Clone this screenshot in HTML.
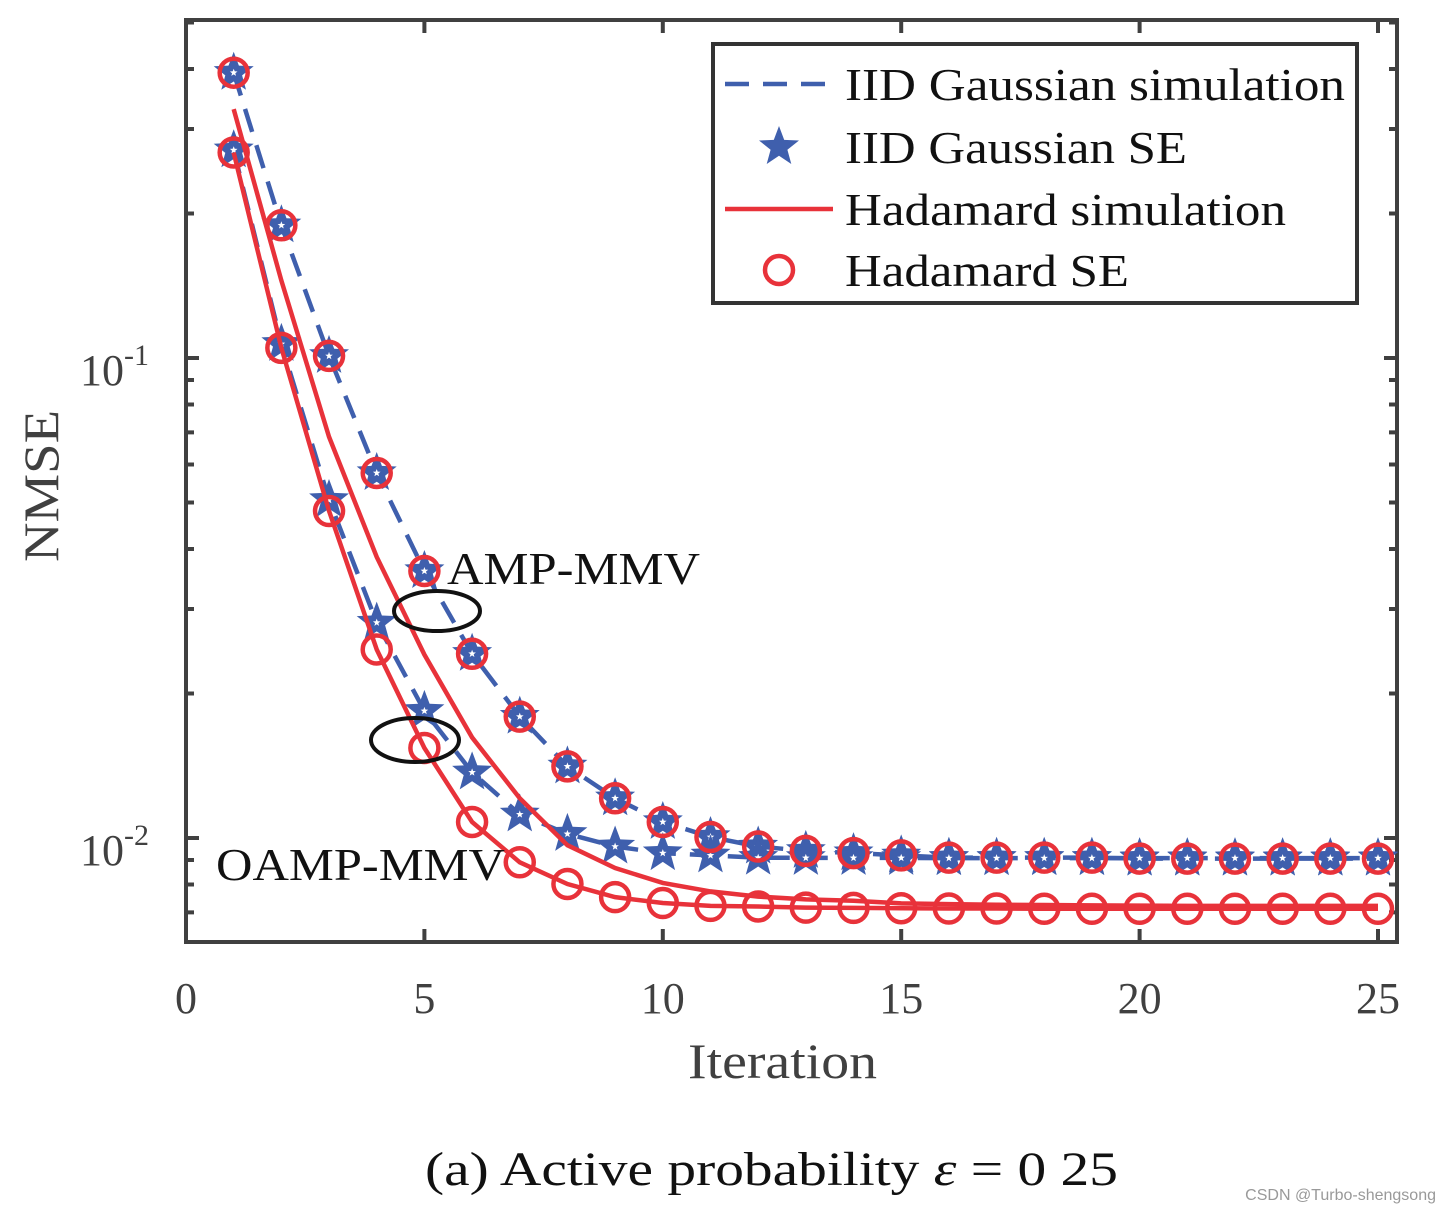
<!DOCTYPE html>
<html><head><meta charset="utf-8"><style>
body{margin:0;background:#fff}
svg text{font-family:"Liberation Serif",serif}
</style></head><body>
<svg id="chart" width="1451" height="1212" viewBox="0 0 1451 1212" xmlns="http://www.w3.org/2000/svg">
<g id="plot"></g>
<text x="688" y="1078" font-size="50" fill="#404040" textLength="189" lengthAdjust="spacingAndGlyphs">Iteration</text>
<text transform="translate(58,562) rotate(-90)" font-size="50" fill="#404040" textLength="152" lengthAdjust="spacingAndGlyphs">NMSE</text>
<text x="447" y="584" font-size="46" fill="#111" textLength="253" lengthAdjust="spacingAndGlyphs">AMP-MMV</text>
<text x="216" y="880" font-size="46" fill="#111" textLength="289" lengthAdjust="spacingAndGlyphs">OAMP-MMV</text>
<ellipse cx="437" cy="611" rx="43" ry="20" fill="none" stroke="#111" stroke-width="4"/>
<ellipse cx="415" cy="740" rx="44" ry="22" fill="none" stroke="#111" stroke-width="4"/>
<text x="425" y="1185" font-size="48" fill="#111" textLength="693" lengthAdjust="spacingAndGlyphs">(a) Active probability <tspan font-style="italic">ε</tspan> = 0 25</text>
<text x="1436" y="1200" font-size="16" fill="#999" text-anchor="end" style="font-family:'Liberation Sans',sans-serif">CSDN @Turbo-shengsong</text>
</svg>
<script>
const iters=[1,2,3,4,5,6,7,8,9,10,11,12,13,14,15,16,17,18,19,20,21,22,23,24,25];
const ampGaussSim=[0.393,0.189,0.101,0.0576,0.036,0.0242,0.0179,0.0141,0.0121,0.0108,0.01005,0.0096,0.0094,0.0093,0.0092,0.0091,0.0091,0.0091,0.0091,0.00906,0.00906,0.00906,0.00906,0.00906,0.00906];
const ampGaussSE=ampGaussSim.slice();
const ampHadSE=[0.393,0.189,0.101,0.0576,0.036,0.0242,0.0179,0.0141,0.0121,0.0108,0.01005,0.0096,0.0094,0.0093,0.0092,0.0091,0.0091,0.0091,0.0091,0.00906,0.00906,0.00906,0.00906,0.00906,0.00906];
const ampHadSim=[0.33,0.145,0.0685,0.0385,0.0241,0.0162,0.0121,0.00966,0.00866,0.00806,0.00774,0.00755,0.00745,0.0074,0.00731,0.00728,0.00726,0.00725,0.00724,0.00723,0.00722,0.00722,0.00722,0.00722,0.00722];
const oampGaussSim=[0.271,0.107,0.0506,0.0281,0.0184,0.0137,0.0112,0.0102,0.0096,0.0093,0.0092,0.0091,0.00909,0.00909,0.00909,0.00908,0.00908,0.00908,0.00908,0.00908,0.00908,0.00908,0.00908,0.00908,0.00908];
const oampGaussSE=oampGaussSim.slice();
const oampHadSim=[0.268,0.105,0.048,0.0247,0.0154,0.0108,0.0089,0.00802,0.00753,0.00732,0.00722,0.0072,0.00716,0.00715,0.00714,0.00713,0.00713,0.00712,0.00712,0.00712,0.00712,0.00712,0.00712,0.00712,0.00712];
const oampHadSE=oampHadSim.slice();
const xTicks=[0,5,10,15,20,25];
const yTicks=[0.1,0.01];
const yTickLabels=["10","10"];
const yTickExps=["-1","-2"];

const L=186,R=1397,T=20,B=942;
const X=v=>186+v*47.68;
const Y=v=>358-(Math.log10(v)+1)*480;
const NS="http://www.w3.org/2000/svg";
const g=document.getElementById('plot');
function mk(tag,attrs,parent){const e=document.createElementNS(NS,tag);for(const k in attrs)e.setAttribute(k,attrs[k]);(parent||g).appendChild(e);return e;}
const BLUE="#3f5fad",RED="#e8323a",AX="#404040";

const box=mk('rect',{x:L,y:T,width:R-L,height:B-T,fill:'none',stroke:AX,'stroke-width':4});


xTicks.forEach(t=>{
  const x=X(t);
  const tk=mk('path',{d:`M${x},${B}v-13M${x},${T}v13`,stroke:AX,'stroke-width':4});
  
  
  const lb=mk('text',{x:x,y:1013,'font-size':44,fill:AX,'text-anchor':'middle'});
  lb.textContent=t;
  
  
});
for(let e=-3;e<=0;e++){for(let m=1;m<=9;m++){
  const v=m*Math.pow(10,e);const y=Y(v);if(y<T||y>B)continue;
  const len=m===1?13:8;
  const tk=mk('path',{d:`M${L},${y}h${len}M${R},${y}h-${len}`,stroke:AX,'stroke-width':4});
  
  
}}
yTicks.forEach((v,i)=>{
  const t=mk('text',{x:80,y:Y(v)+27,'font-size':44,fill:AX});
  t.innerHTML=yTickLabels[i]+'<tspan dy="-20" font-size="30">'+yTickExps[i]+'</tspan>';
  
  
});
function line(arr,color,dash,name){
  const d=arr.map((v,i)=>(i?'L':'M')+X(iters[i])+','+Y(v)).join('');
  const p=mk('path',{d:d,fill:'none',stroke:color,'stroke-width':4.5,'stroke-dasharray':dash||'none'});
  
  
}
function starPath(cx,cy,r){let s='';for(let k=0;k<10;k++){const rr=k%2?r*0.42:r;const a=-Math.PI/2+k*Math.PI/5;s+=(k?'L':'M')+(cx+rr*Math.cos(a)).toFixed(1)+','+(cy+rr*Math.sin(a)).toFixed(1);}return s+'Z';}
function stars(arr,name){arr.forEach((v,i)=>{
  const s=mk('path',{d:starPath(X(iters[i]),Y(v),21),fill:BLUE});
  
  
  const w=mk('path',{d:starPath(X(iters[i]),Y(v),4),fill:'#fff'});
  
  
});}
function circles(arr,name){arr.forEach((v,i)=>{
  const c=mk('circle',{cx:X(iters[i]),cy:Y(v),r:14,fill:'none',stroke:RED,'stroke-width':4.5});
  
  
});}
line(ampGaussSim,BLUE,'24,14','amp-gaussian-sim-line');
line(oampGaussSim,BLUE,'24,14','oamp-gaussian-sim-line');
stars(ampGaussSE,'amp-gaussian-se-star');
stars(oampGaussSE,'oamp-gaussian-se-star');
line(ampHadSim,RED,null,'amp-hadamard-sim-line');
line(oampHadSim,RED,null,'oamp-hadamard-sim-line');
circles(ampHadSE,'amp-hadamard-se-marker');
circles(oampHadSE,'oamp-hadamard-se-marker');

const lg=mk('g',{});


const lr=mk('rect',{x:713,y:44,width:644,height:259,fill:'#fff',stroke:'#333','stroke-width':4},lg);


const entries=[["IID Gaussian simulation",'dash',500],["IID Gaussian SE",'star',342],["Hadamard simulation",'solid',441],["Hadamard SE",'circle',284]];
const ys=[84,147,209,270];
entries.forEach((e,i)=>{
  const y=ys[i];
  if(e[1]==='dash'){const p=mk('path',{d:`M725,${y}H833`,stroke:BLUE,'stroke-width':4.5,'stroke-dasharray':'24,14'},lg);}
  if(e[1]==='solid'){const p=mk('path',{d:`M725,${y}H833`,stroke:RED,'stroke-width':4.5},lg);}
  if(e[1]==='star'){const p=mk('path',{d:starPath(779,y,21),fill:BLUE},lg);}
  if(e[1]==='circle'){const p=mk('circle',{cx:779,cy:y,r:14,fill:'none',stroke:RED,'stroke-width':4.5},lg);}
  const t=mk('text',{x:845,y:y+16,'font-size':46,fill:'#111',textLength:e[2],lengthAdjust:'spacingAndGlyphs'},lg);
  t.textContent=e[0];
  
  
});
</script>
</body></html>
